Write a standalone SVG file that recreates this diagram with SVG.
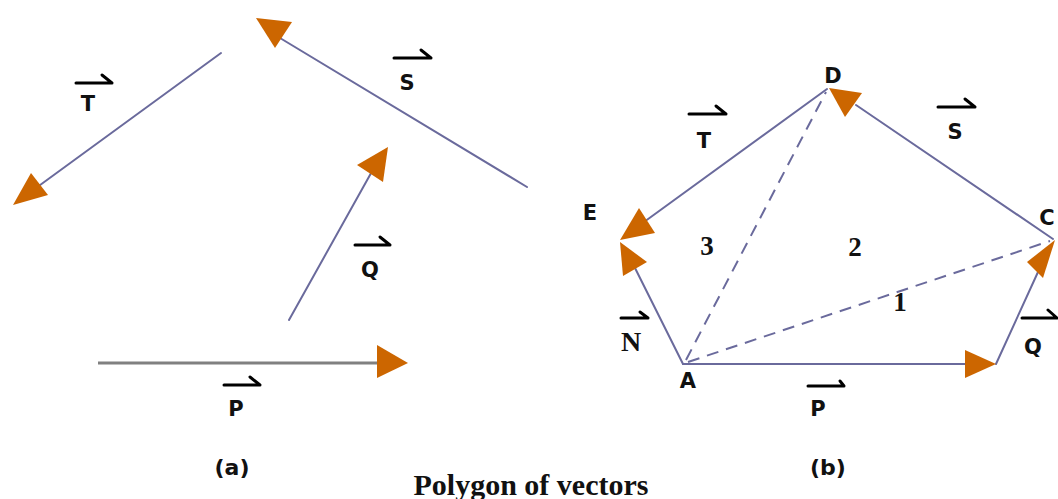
<svg xmlns="http://www.w3.org/2000/svg" width="1058" height="499" viewBox="0 0 1058 499">
<style>
.ln{stroke:#6a6a9c;stroke-width:2;fill:none;stroke-linecap:round}
.lp{stroke:#808080;stroke-width:3;fill:none}
.ds{stroke:#6a6a9c;stroke-width:2;fill:none;stroke-dasharray:12,8}
.ah{fill:#cc6600}
.vb{stroke:#000;stroke-width:3;fill:none;stroke-linecap:round;stroke-linejoin:round}
.lb{font-family:"DejaVu Sans",Verdana,sans-serif;font-weight:bold;font-size:21px;fill:#111;text-anchor:middle}
.cap{font-size:22px}
.sf{font-family:"Liberation Serif","Times New Roman",serif;font-weight:bold;fill:#111;text-anchor:middle}
</style>
<rect width="1058" height="499" fill="#fff"/>
<g id="connectors">
  <!-- (a) -->
  <line class="ln" x1="221" y1="53" x2="36" y2="188"/>
  <line class="ln" x1="527" y1="187" x2="280" y2="38"/>
  <line class="ln" x1="289" y1="320" x2="375" y2="166"/>
  <line class="lp" x1="98" y1="363" x2="380" y2="363"/>
  <!-- (b) -->
  <line class="ln" x1="683" y1="364" x2="968" y2="364"/>
  <line class="ln" x1="996" y1="364" x2="1038" y2="272"/>
  <line class="ln" x1="1053" y1="239" x2="856" y2="105"/>
  <line class="ln" x1="827" y1="89" x2="644" y2="222"/>
  <line class="ln" x1="683" y1="364" x2="634" y2="266"/>
  <line class="ds" x1="686" y1="360" x2="826" y2="92"/>
  <line class="ds" x1="688" y1="362" x2="1050" y2="241"/>
</g>
<g id="vecT-a">
  <polygon class="ah" points="13,205 31,173 48,195"/>
  <path class="vb" d="M76,83 H112 L102,75"/>
  <text class="lb" x="88" y="111">T</text>
</g>
<g id="vecS-a">
  <polygon class="ah" points="256,18 292,22 275,48"/>
  <path class="vb" d="M394,58 H431 L421,50"/>
  <text class="lb" x="407" y="90">S</text>
</g>
<g id="vecQ-a">
  <polygon class="ah" points="388,147 357,165 383,182"/>
  <path class="vb" d="M355,245 H390 L380,237"/>
  <text class="lb" x="370" y="277">Q</text>
</g>
<g id="vecP-a">
  <polygon class="ah" points="377,345 408,363 377,378"/>
  <path class="vb" d="M224,385 H260 L250,377"/>
  <text class="lb" x="236" y="416">P</text>
</g>
<text id="label-a" class="lb cap" x="232" y="475">(a)</text>
<g id="pointA">
  <text class="lb" x="688" y="388">A</text>
  <path class="vb" d="M808,386 H844 L840,381"/>
  <text class="lb" x="818" y="416">P</text>
  <polygon class="ah" points="965,350 996,364 965,378"/>
</g>
<g id="pointC">
  <text class="lb" x="1047" y="225">C</text>
  <polygon class="ah" points="1055,240 1027,262 1043,278"/>
  <path class="vb" d="M1022,318 H1057 L1048,310"/>
  <text class="lb" x="1033" y="354">Q</text>
</g>
<g id="pointD">
  <text class="lb" x="833" y="83">D</text>
  <polygon class="ah" points="829,88 862,93 845,117"/>
  <path class="vb" d="M938,107 H975 L965,99"/>
  <text class="lb" x="955" y="139">S</text>
</g>
<g id="pointE">
  <text class="lb" x="590" y="220">E</text>
  <polygon class="ah" points="620,240 639,208 655,233"/>
  <polygon class="ah" points="620,242 623,276 647,262"/>
  <path class="vb" d="M689,114 H726 L716,106"/>
  <text class="lb" x="704" y="148">T</text>
  <path class="vb" d="M621,318 H648 L640,312"/>
  <text class="sf" x="631" y="351" font-size="28">N</text>
</g>
<g id="regions">
  <text class="sf" x="707" y="255" font-size="27">3</text>
  <text class="sf" x="855" y="256" font-size="27">2</text>
  <text class="sf" x="900" y="311" font-size="27">1</text>
</g>
<text id="label-b" class="lb cap" x="828" y="475">(b)</text>
<text id="title" class="sf" x="531" y="495" font-size="30">Polygon of vectors</text>
</svg>
